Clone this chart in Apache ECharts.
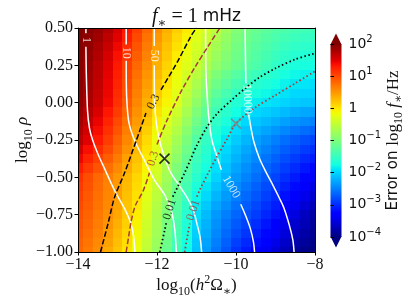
<!DOCTYPE html>
<html><head><meta charset="utf-8">
<script src="https://cdn.jsdelivr.net/npm/echarts/dist/echarts.min.js"></script>
<style>html,body{margin:0;padding:0;background:#fff}#c{width:407px;height:305px}</style>
</head><body><div id="c"></div>
<script>
// ---------------- data ----------------
const xCenters = [-14,-13.75,-13.5,-13.25,-13,-12.75,-12.5,-12.25,-12,-11.75,-11.5,-11.25,-11,-10.75,-10.5,-10.25,-10,-9.75,-9.5,-9.25,-9,-8.75,-8.5,-8.25,-8];
const yCenters = [0.5,0.4375,0.375,0.3125,0.25,0.1875,0.125,0.0625,0,-0.0625,-0.125,-0.1875,-0.25,-0.3125,-0.375,-0.4375,-0.5,-0.5625,-0.625,-0.6875,-0.75,-0.8125,-0.875,-0.9375,-1];
// log10 of the error, one row per yCenters entry (top row first)
const logErrRows = [
 [2.0,1.95,1.87,1.74,1.55,1.32,1.07,0.8,0.55,0.35,0.15,-0.02,-0.2,-0.37,-0.55,-0.75,-0.95,-1.05,-1.15,-1.23,-1.3,-1.35,-1.4,-1.43,-1.45],
 [1.99,1.93,1.83,1.68,1.49,1.26,1.0,0.74,0.5,0.29,0.09,-0.09,-0.27,-0.44,-0.63,-0.82,-1.0,-1.1,-1.2,-1.29,-1.36,-1.42,-1.48,-1.51,-1.53],
 [1.98,1.9,1.78,1.62,1.42,1.19,0.93,0.68,0.45,0.23,0.03,-0.15,-0.33,-0.51,-0.7,-0.88,-1.05,-1.15,-1.25,-1.34,-1.42,-1.49,-1.55,-1.58,-1.6],
 [1.97,1.88,1.74,1.55,1.35,1.12,0.87,0.63,0.4,0.18,-0.04,-0.21,-0.39,-0.58,-0.78,-0.94,-1.1,-1.2,-1.3,-1.4,-1.49,-1.56,-1.63,-1.66,-1.68],
 [1.95,1.85,1.7,1.5,1.3,1.05,0.8,0.57,0.35,0.12,-0.1,-0.27,-0.45,-0.65,-0.85,-1.0,-1.15,-1.25,-1.35,-1.45,-1.55,-1.63,-1.7,-1.73,-1.75],
 [1.94,1.83,1.68,1.48,1.27,1.01,0.75,0.52,0.29,0.07,-0.15,-0.35,-0.55,-0.77,-0.98,-1.13,-1.28,-1.38,-1.48,-1.57,-1.65,-1.73,-1.79,-1.82,-1.84],
 [1.93,1.81,1.65,1.45,1.23,0.97,0.7,0.46,0.23,0.01,-0.2,-0.42,-0.65,-0.88,-1.1,-1.25,-1.4,-1.5,-1.6,-1.68,-1.75,-1.82,-1.88,-1.9,-1.93],
 [1.92,1.79,1.63,1.43,1.19,0.93,0.65,0.41,0.17,-0.05,-0.25,-0.5,-0.75,-0.99,-1.23,-1.38,-1.53,-1.63,-1.73,-1.79,-1.85,-1.91,-1.97,-1.99,-2.02],
 [1.9,1.77,1.6,1.4,1.15,0.88,0.6,0.35,0.1,-0.1,-0.3,-0.57,-0.85,-1.1,-1.35,-1.5,-1.65,-1.75,-1.85,-1.9,-1.95,-2.0,-2.05,-2.08,-2.1],
 [1.85,1.71,1.53,1.32,1.08,0.81,0.54,0.29,0.03,-0.19,-0.4,-0.68,-0.97,-1.21,-1.45,-1.6,-1.75,-1.86,-1.97,-2.03,-2.09,-2.15,-2.22,-2.26,-2.29],
 [1.8,1.64,1.45,1.24,1.0,0.74,0.48,0.22,-0.05,-0.28,-0.5,-0.79,-1.08,-1.32,-1.55,-1.7,-1.85,-1.97,-2.08,-2.15,-2.23,-2.3,-2.38,-2.43,-2.48],
 [1.75,1.57,1.38,1.16,0.93,0.67,0.42,0.15,-0.13,-0.37,-0.6,-0.9,-1.19,-1.43,-1.65,-1.8,-1.95,-2.08,-2.19,-2.28,-2.37,-2.45,-2.54,-2.61,-2.67],
 [1.7,1.5,1.3,1.08,0.85,0.6,0.35,0.08,-0.2,-0.45,-0.7,-1.0,-1.3,-1.53,-1.75,-1.9,-2.05,-2.18,-2.3,-2.4,-2.5,-2.6,-2.7,-2.78,-2.85],
 [1.57,1.37,1.18,0.98,0.77,0.53,0.29,0.02,-0.25,-0.52,-0.79,-1.09,-1.38,-1.6,-1.82,-1.97,-2.13,-2.26,-2.38,-2.49,-2.59,-2.7,-2.8,-2.9,-2.98],
 [1.43,1.24,1.05,0.87,0.68,0.45,0.23,-0.04,-0.3,-0.59,-0.88,-1.17,-1.45,-1.67,-1.88,-2.04,-2.2,-2.33,-2.45,-2.57,-2.68,-2.79,-2.9,-3.01,-3.1],
 [1.29,1.1,0.93,0.76,0.59,0.38,0.17,-0.1,-0.35,-0.66,-0.97,-1.25,-1.53,-1.74,-1.94,-2.11,-2.28,-2.41,-2.53,-2.65,-2.77,-2.89,-3.0,-3.12,-3.23],
 [1.15,0.97,0.8,0.65,0.5,0.3,0.1,-0.15,-0.4,-0.72,-1.05,-1.33,-1.6,-1.8,-2.0,-2.18,-2.35,-2.48,-2.6,-2.73,-2.85,-2.98,-3.1,-3.23,-3.35],
 [1.1,0.94,0.78,0.63,0.48,0.27,0.07,-0.2,-0.47,-0.79,-1.12,-1.41,-1.69,-1.89,-2.09,-2.26,-2.43,-2.56,-2.68,-2.81,-2.93,-3.07,-3.2,-3.34,-3.47],
 [1.05,0.9,0.75,0.6,0.45,0.24,0.03,-0.25,-0.53,-0.85,-1.18,-1.48,-1.78,-1.98,-2.18,-2.34,-2.5,-2.63,-2.75,-2.88,-3.0,-3.16,-3.3,-3.44,-3.58],
 [1.0,0.87,0.73,0.58,0.43,0.21,-0.01,-0.3,-0.59,-0.92,-1.24,-1.56,-1.87,-2.07,-2.27,-2.42,-2.58,-2.71,-2.83,-2.96,-3.08,-3.25,-3.4,-3.55,-3.69],
 [0.95,0.83,0.7,0.55,0.4,0.18,-0.05,-0.35,-0.65,-0.98,-1.3,-1.63,-1.95,-2.15,-2.35,-2.5,-2.65,-2.78,-2.9,-3.03,-3.15,-3.33,-3.5,-3.65,-3.8],
 [0.92,0.8,0.67,0.51,0.35,0.14,-0.09,-0.39,-0.69,-1.02,-1.34,-1.67,-1.99,-2.2,-2.4,-2.57,-2.73,-2.86,-2.99,-3.13,-3.25,-3.43,-3.59,-3.72,-3.85],
 [0.88,0.76,0.63,0.47,0.3,0.09,-0.13,-0.43,-0.73,-1.06,-1.38,-1.71,-2.03,-2.24,-2.45,-2.63,-2.8,-2.94,-3.08,-3.22,-3.35,-3.52,-3.68,-3.79,-3.9],
 [0.84,0.72,0.59,0.43,0.25,0.05,-0.17,-0.47,-0.77,-1.1,-1.42,-1.75,-2.07,-2.29,-2.5,-2.69,-2.88,-3.02,-3.17,-3.31,-3.45,-3.61,-3.77,-3.86,-3.95],
 [0.8,0.68,0.55,0.38,0.2,0.0,-0.2,-0.5,-0.8,-1.13,-1.45,-1.78,-2.1,-2.33,-2.55,-2.75,-2.95,-3.1,-3.25,-3.4,-3.55,-3.7,-3.85,-3.93,-4.0]
];
const cellW = 0.25, cellH = 0.0625;

// white contours (null = gap for the inline label)
const snr1 = [[-13.8,0.5],[-13.8,0.465],null,[-13.8,0.375],[-13.79,0.2],[-13.76,-0.05],[-13.71,-0.17],[-13.63,-0.25],[-13.5,-0.34],[-13.33,-0.44],[-13.07,-0.59],[-12.82,-0.71],[-12.66,-0.81],[-12.59,-0.9],[-12.56,-1]];
const snr10 = [[-12.78,0.5],[-12.78,0.39],null,[-12.78,0.28],[-12.77,0.05],[-12.72,-0.12],[-12.63,-0.21],[-12.52,-0.28],[-12.31,-0.39],[-12.06,-0.52],[-11.8,-0.62],[-11.63,-0.73],[-11.55,-0.85],[-11.51,-1]];
const snr50 = [[-12.07,0.5],[-12.07,0.38],null,[-12.07,0.25],[-12.06,0.0],[-12.01,-0.15],[-11.92,-0.27],[-11.8,-0.37],[-11.67,-0.46],[-11.45,-0.55],[-11.25,-0.63],[-11.08,-0.72],[-10.99,-0.81],[-10.91,-0.9],[-10.87,-1]];
const snr1000 = [[-10.77,0.5],[-10.76,0.2],[-10.72,0.0],[-10.68,-0.12],[-10.61,-0.25],[-10.47,-0.37],[-10.37,-0.45],null,[-9.88,-0.68],[-9.75,-0.76],[-9.64,-0.84],[-9.56,-0.93],[-9.53,-1]];
const snr10000 = [[-9.77,0.5],[-9.76,0.3],[-9.75,0.13],null,[-9.68,-0.08],[-9.62,-0.17],[-9.55,-0.26],[-9.41,-0.37],[-9.25,-0.46],[-9.07,-0.55],[-8.9,-0.64],[-8.78,-0.71],[-8.64,-0.83],[-8.56,-0.92],[-8.53,-1]];
// error contours
const blackDashed03 = [[-13.43,-1],[-13.24,-0.81],[-13.07,-0.63],[-12.82,-0.47],[-12.52,-0.25],[-12.28,-0.07],null,[-11.9,0.085],[-11.47,0.28],[-11.13,0.45],[-11.0,0.5]];
const redDashed03 = [[-12.78,-1],[-12.72,-0.9],[-12.65,-0.79],[-12.55,-0.69],[-12.35,-0.59],[-12.19,-0.47],null,[-12.0,-0.28],[-11.75,-0.12],[-11.38,0.08],[-11.01,0.25],[-10.7,0.38],[-10.41,0.5]];
const blackDotted001 = [[-11.93,-1],[-11.81,-0.86],[-11.76,-0.8],null,[-11.6,-0.63],[-11.47,-0.56],[-11.3,-0.47],[-11.15,-0.38],[-11.0,-0.29],[-10.75,-0.17],[-10.5,-0.08],[-10.1,0.02],[-9.75,0.1],[-9.4,0.17],[-9.0,0.23],[-8.5,0.29],[-8.0,0.33]];
const redDotted001 = [[-11.3,-1],[-11.22,-0.88],[-11.17,-0.81],null,[-10.99,-0.63],[-10.91,-0.58],[-10.7,-0.47],[-10.5,-0.37],[-10.24,-0.25],[-10.0,-0.14],[-9.5,-0.03],[-9.0,0.05],[-8.5,0.13],[-8.0,0.21]];
// inline contour labels: text, x, y, rotation(deg), colour key
const contourLabels = [
 ['1',-13.8,0.42,-90,'w'],['10',-12.78,0.335,-90,'w'],['50',-12.07,0.315,-90,'w'],
 ['1000',-10.12,-0.565,-60,'w'],['10000',-9.715,0.025,-88,'w'],
 ['0.3',-12.09,0.005,62,'k'],['0.3',-12.1,-0.375,72,'r'],
 ['0.01',-11.68,-0.715,72,'k'],['0.01',-11.08,-0.72,72,'r']
];
const trueMarker = [[-11.81,-0.375]];
const greyMarker = [[-10.0,-0.14]];

const xTicks = [-14,-12,-10,-8];
const xTickLabels = ['\u221214','\u221212','\u221210','\u22128'];
const yTicks = [-1,-0.75,-0.5,-0.25,0,0.25,0.5];
const yTickLabels = ['\u22121.00','\u22120.75','\u22120.50','\u22120.25','0.00','0.25','0.50'];
const cbTicks = [-4,-3,-2,-1,0,1,2];
const cbTickExponents = ['\u22124','\u22123','\u22122','\u22121','','1','2'];

// ---------------- colormap (jet) ----------------
function seg(t, pts){ for(let i=1;i<pts.length;i++){ if(t<=pts[i][0]){ const a=pts[i-1], b=pts[i]; return a[1]+(b[1]-a[1])*(t-a[0])/(b[0]-a[0]); } } return pts[pts.length-1][1]; }
function jet(t){
  t=Math.max(0,Math.min(1,t));
  const r=seg(t,[[0,0],[0.35,0],[0.66,1],[0.89,1],[1,0.5]]);
  const g=seg(t,[[0,0],[0.125,0],[0.375,1],[0.64,1],[0.91,0],[1,0]]);
  const b=seg(t,[[0,0.5],[0.11,1],[0.34,1],[0.65,0],[1,0]]);
  return 'rgb('+Math.round(r*255)+','+Math.round(g*255)+','+Math.round(b*255)+')';
}
const jetColors=[]; for(let i=0;i<=96;i++) jetColors.push(jet(i/96));
const cbStops=[]; for(let i=0;i<=96;i++) cbStops.push({offset:i/96, color:jet(1-i/96)});

// ---------------- build ----------------
const cellData=[];
yCenters.forEach((y,j)=>{ logErrRows[j].forEach((v,i)=>{ cellData.push([xCenters[i], y, v]); }); });
const cbMin=cbTicks[0], cbMax=cbTicks[cbTicks.length-1];

function lookup(v, ticks, labels){ for(let i=0;i<ticks.length;i++){ if(Math.abs(ticks[i]-v)<1e-6) return labels[i]; } return ''; }
function splitSegs(pts){ const out=[]; let cur=[]; pts.forEach(p=>{ if(p===null){ if(cur.length) out.push(cur); cur=[]; } else cur.push(p); }); if(cur.length) out.push(cur); return out; }

const SERIF='"Liberation Serif","DejaVu Serif",serif';
const SANS='"DejaVu Sans",sans-serif';
const RED='#a83a3a';

const series=[];
series.push({
  type:'custom', xAxisIndex:0, yAxisIndex:0, z:1, silent:true,
  encode:{x:0,y:1}, data:cellData,
  renderItem:function(params, api){
    const x=api.value(0), y=api.value(1);
    const p0=api.coord([x-cellW/2, y+cellH/2]);
    const p1=api.coord([x+cellW/2, y-cellH/2]);
    const x0=Math.round(p0[0]), y0=Math.round(p0[1]), x1=Math.round(p1[0]), y1=Math.round(p1[1]);
    const cs=params.coordSys;
    const r=echarts.graphic.clipRectByRect({x:x0,y:y0,width:x1-x0,height:y1-y0},{x:cs.x,y:cs.y,width:cs.width,height:cs.height});
    if(!r) return;
    const c=api.visual('color');
    return {type:'rect', shape:r, style:{fill:c, stroke:null}};
  }
});
function addLine(pts, color, type, width){
  splitSegs(pts).forEach(s=>{
    series.push({type:'line', xAxisIndex:0, yAxisIndex:0, z:3, silent:true, data:s, showSymbol:false, symbol:'none',
      smooth:0.3, lineStyle:{color:color, width:width, type:type, cap:'butt'}});
  });
}
[snr1,snr10,snr50,snr1000,snr10000].forEach(p=>addLine(p,'#ffffff','solid',1.5));
addLine(blackDashed03,'#000000',[5.5,2.4],1.5);
addLine(redDashed03,RED,[5.5,2.4],1.5);
addLine(blackDotted001,'#000000',[1.5,2.5],1.8);
addLine(redDotted001,RED,[1.5,2.5],1.8);

const colKey={w:'#ffffff',k:'#000000',r:RED};
series.push({type:'scatter', xAxisIndex:0, yAxisIndex:0, z:4, silent:true, symbolSize:0,
  data:contourLabels.map(l=>({value:[l[1],l[2]], label:{show:true, position:'inside', formatter:l[0], rotate:l[3], color:colKey[l[4]], fontFamily:SERIF, fontSize:12}})),
  label:{show:true}
});
const xPath='path://M0 0L10 10M10 0L0 10';
series.push({type:'scatter', xAxisIndex:0, yAxisIndex:0, z:5, silent:true, data:trueMarker, symbol:xPath, symbolSize:10,
  itemStyle:{color:'rgba(0,0,0,0)', borderColor:'#000', borderWidth:1.6}});
series.push({type:'scatter', xAxisIndex:0, yAxisIndex:0, z:5, silent:true, data:greyMarker, symbol:xPath, symbolSize:10,
  itemStyle:{color:'rgba(0,0,0,0)', borderColor:'#808080', borderWidth:1.6}});
// colour bar
series.push({type:'custom', xAxisIndex:2, yAxisIndex:2, silent:true, z:2, data:[[0,cbMin]],
  renderItem:function(params, api){
    const top=api.coord([0,cbMax]), bot=api.coord([1,cbMin]);
    const L=top[0], R=bot[0], T=top[1], B=bot[1], h=(B-T)*0.055, M=(L+R)/2;
    return {type:'group', children:[
      {type:'rect', shape:{x:L,y:T,width:R-L,height:B-T}, style:{fill:new echarts.graphic.LinearGradient(0,0,0,1,cbStops)}},
      {type:'polygon', shape:{points:[[L,T+0.5],[R,T+0.5],[M,T-h]]}, style:{fill:jet(1)}},
      {type:'polygon', shape:{points:[[L,B-0.5],[R,B-0.5],[M,B+h]]}, style:{fill:jet(0)}}
    ]};
  }
});

const mathRich = {
  r:{fontFamily:SERIF, fontSize:17, lineHeight:24, color:'#111'},
  i:{fontFamily:SERIF, fontSize:17, lineHeight:24, fontStyle:'italic', color:'#111'},
  s:{fontFamily:SERIF, fontSize:12, lineHeight:12, verticalAlign:'bottom', color:'#111'},
  p:{fontFamily:SERIF, fontSize:12, lineHeight:12, verticalAlign:'top', color:'#111'}
};

const chart=echarts.init(document.getElementById('c'), null, {renderer:'canvas', width:407, height:305});
chart.setOption({
  animation:false, backgroundColor:'#ffffff',
  grid:[
    {left:78, top:28, width:237, height:224, containLabel:false, outerBoundsMode:'none', show:false},
    {left:330.5, top:44, width:11, height:193, containLabel:false, outerBoundsMode:'none', show:false}
  ],
  visualMap:{type:'continuous', show:false, min:cbMin, max:cbMax, dimension:2, seriesIndex:0, inRange:{color:jetColors}},
  xAxis:[
    {gridIndex:0, type:'value', min:-14, max:-8, interval:2, position:'bottom', z:10,
     axisLine:{show:true, onZero:false, lineStyle:{color:'#000', width:1}},
     axisTick:{show:true, inside:false, length:3.5, lineStyle:{color:'#000', width:1}},
     axisLabel:{formatter:v=>lookup(v,xTicks,xTickLabels), fontFamily:SERIF, fontSize:16, color:'#111', margin:5},
     splitLine:{show:false},
     name:'{r|log}{s|10}{r|(}{i|h}{p|2}{r|\u03A9}{s|\u2217}{r|)}', nameLocation:'middle', nameGap:22, nameMoveOverlap:false,
     nameTextStyle:{rich:mathRich}},
    {gridIndex:0, type:'value', min:-14, max:-8, position:'top', z:10,
     axisLine:{show:true, onZero:false, lineStyle:{color:'#000', width:1}}, axisTick:{show:false}, axisLabel:{show:false}, splitLine:{show:false}},
    {gridIndex:1, type:'value', min:0, max:1, show:false}
  ],
  yAxis:[
    {gridIndex:0, type:'value', min:-1, max:0.5, interval:0.25, position:'left', z:10,
     axisLine:{show:true, onZero:false, lineStyle:{color:'#000', width:1}},
     axisTick:{show:true, inside:false, length:3.5, lineStyle:{color:'#000', width:1}},
     axisLabel:{formatter:v=>lookup(v,yTicks,yTickLabels), fontFamily:SERIF, fontSize:16, color:'#111', margin:5},
     splitLine:{show:false},
     name:'{r|log}{s|10}{r| }{i|\u03C1}', nameLocation:'middle', nameRotate:90, nameGap:43, nameMoveOverlap:false,
     nameTextStyle:{rich:mathRich}},
    {gridIndex:0, type:'value', min:-1, max:0.5, position:'right', z:10,
     axisLine:{show:true, onZero:false, lineStyle:{color:'#000', width:1}}, axisTick:{show:false}, axisLabel:{show:false}, splitLine:{show:false}},
    {gridIndex:1, type:'value', min:cbMin, max:cbMax, interval:1, position:'right', z:10,
     axisLine:{show:false}, axisTick:{show:true, inside:false, length:3.5, lineStyle:{color:'#000', width:1}},
     axisLabel:{margin:7, formatter:v=>{ const e=lookup(v,cbTicks,cbTickExponents); return e===''?'{b|1}':'{b|10}{e|'+e+'}'; },
       rich:{b:{fontFamily:SANS, fontSize:14, lineHeight:20, color:'#111'}, e:{fontFamily:SANS, fontSize:10, lineHeight:10, verticalAlign:'top', color:'#111'}}},
     splitLine:{show:false},
     name:'{a|Error on }{r|log}{s|10}{r| }{i|f}{s|\u2217}{r|/Hz}', nameLocation:'middle', nameRotate:90, nameGap:41, nameMoveOverlap:false,
     nameTextStyle:{rich:{
       a:{fontFamily:SANS, fontSize:15, lineHeight:22, color:'#111'},
       r:{fontFamily:SERIF, fontSize:17, lineHeight:22, color:'#111'},
       i:{fontFamily:SERIF, fontSize:17, lineHeight:22, fontStyle:'italic', color:'#111'},
       s:{fontFamily:SERIF, fontSize:12, lineHeight:12, verticalAlign:'bottom', color:'#111'}}}}
  ],
  graphic:[{type:'text', x:196.5, y:17, z:20, silent:true,
    style:{text:'{i|f}{s|\u2217}{r| = 1 }{m|mHz}', align:'center', verticalAlign:'middle',
      rich:{i:{fontFamily:SERIF, fontSize:20, lineHeight:26, fontStyle:'italic', fill:'#111'},
            s:{fontFamily:SERIF, fontSize:13, lineHeight:13, verticalAlign:'bottom', fill:'#111'},
            r:{fontFamily:SERIF, fontSize:20, lineHeight:26, fill:'#111'},
            m:{fontFamily:SANS, fontSize:17, lineHeight:26, fill:'#111'}}}}],
  series:series
});
</script></body></html>
